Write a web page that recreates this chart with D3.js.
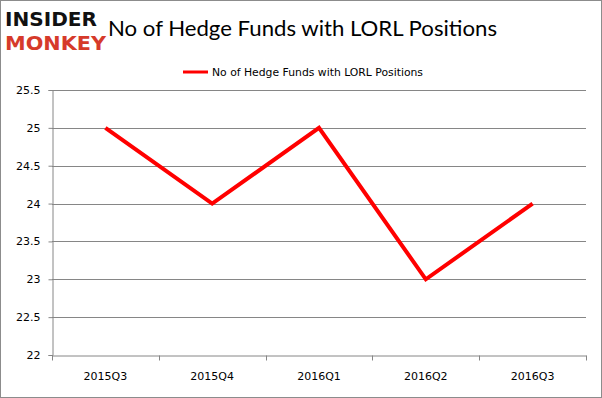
<!DOCTYPE html>
<html><head><meta charset="utf-8">
<script src="https://cdn.jsdelivr.net/npm/d3@7/dist/d3.min.js"></script>
<style>body{margin:0;background:#fff}svg{display:block}</style>
</head><body>
<script>
const categories = ["2015Q3","2015Q4","2016Q1","2016Q2","2016Q3"];
const values = [25, 24, 25, 23, 24];
const yTicks = [22, 22.5, 23, 23.5, 24, 24.5, 25, 25.5];
const seriesName = "No of Hedge Funds with LORL Positions";
const title = "No of Hedge Funds with LORL Positions";

const W = 602, H = 398;
const svg = d3.select("body").append("svg").attr("width", W).attr("height", H);
svg.append("rect").attr("x",0.5).attr("y",0.5).attr("width",W-1).attr("height",H-1)
  .attr("fill","#fff").attr("stroke","#8c8c8c");

const m = {left:52, right:586, top:90, bottom:355};
const x = d3.scaleBand().domain(categories).range([m.left, m.right]);
const y = d3.scaleLinear().domain([22, 25.5]).range([m.bottom, m.top]);

// gridlines
svg.append("g").selectAll("line").data(yTicks.filter(t=>t>22)).join("line")
  .attr("x1", m.left).attr("x2", m.right)
  .attr("y1", d=>Math.round(y(d))+0.5).attr("y2", d=>Math.round(y(d))+0.5)
  .attr("stroke","#868686").attr("stroke-width",1);

// y axis
const yAxis = svg.append("g").attr("transform",`translate(${m.left+0.5},0)`)
  .call(d3.axisLeft(y).tickValues(yTicks).tickSize(4).tickPadding(8).tickFormat(d=>String(d)));
yAxis.select(".domain").attr("stroke","#868686");
yAxis.selectAll(".tick line").attr("stroke","#868686");
yAxis.selectAll("text").attr("font-family","'DejaVu Sans', Verdana, sans-serif").attr("font-size",11).attr("fill","#000");

// x axis
const xAxis = svg.append("g").attr("transform",`translate(0,${m.bottom+0.5})`)
  .call(d3.axisBottom(x).tickSize(0).tickPadding(17));
xAxis.select(".domain").attr("stroke","#868686");
xAxis.selectAll("text").attr("font-family","'DejaVu Sans', Verdana, sans-serif").attr("font-size",11).attr("fill","#000");
const bounds = [...categories.map(c=>x(c)), m.right];
xAxis.selectAll(".bt").data(bounds).join("line").attr("class","bt")
  .attr("x1",d=>Math.round(d)+0.5).attr("x2",d=>Math.round(d)+0.5)
  .attr("y1",0).attr("y2",5).attr("stroke","#868686");

// line
const line = d3.line().x((d,i)=>x(categories[i])+x.bandwidth()/2).y(d=>y(d));
svg.append("path").datum(values).attr("d",line).attr("fill","none")
  .attr("stroke","#ff0000").attr("stroke-width",4).attr("stroke-linejoin","miter");

// title
svg.append("text").attr("x",108).attr("y",36).text(title)
  .attr("font-family","Lato, 'Open Sans', sans-serif").attr("font-size",22)
  .attr("textLength",389).attr("lengthAdjust","spacingAndGlyphs").attr("fill","#000");

// legend
svg.append("line").attr("x1",183).attr("x2",208).attr("y1",72).attr("y2",72)
  .attr("stroke","#ff0000").attr("stroke-width",3);
svg.append("text").attr("x",212).attr("y",76).text(seriesName)
  .attr("font-family","'DejaVu Sans', Verdana, sans-serif").attr("font-size",11)
  .attr("textLength",211).attr("lengthAdjust","spacingAndGlyphs").attr("fill","#000");

// logo
svg.append("text").attr("x",5).attr("y",26).text("INSIDER")
  .attr("font-family","'DejaVu Sans', sans-serif").attr("font-weight",900).attr("font-size",20)
  .attr("textLength",92).attr("lengthAdjust","spacingAndGlyphs").attr("fill","#111");
svg.append("text").attr("x",5).attr("y",50).text("MONKEY")
  .attr("font-family","'DejaVu Sans', sans-serif").attr("font-weight",900).attr("font-size",20)
  .attr("textLength",101).attr("lengthAdjust","spacingAndGlyphs").attr("fill","#d63a2a");
</script>
</body></html>
